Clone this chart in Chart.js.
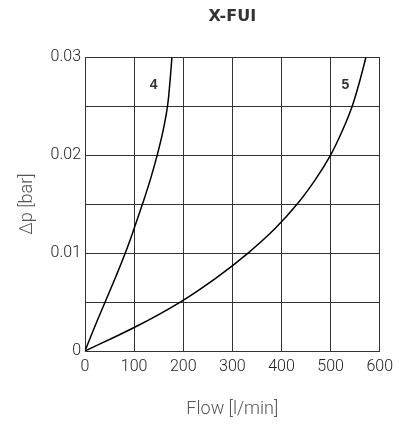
<!DOCTYPE html>
<html><head><meta charset="utf-8">
<script src="https://cdn.jsdelivr.net/npm/chart.js@4/dist/chart.umd.min.js"></script>
<style>html,body{margin:0;padding:0;background:#fff}#wrap{width:399px;height:426px}</style>
</head><body><div id="wrap"><canvas id="c" width="399" height="426"></canvas></div>
<script>
const titleText = 'X-FUI';
const xTitle = 'Flow [l/min]';
const yTitle = 'Δp [bar]';
const dpSteps    = [0, 0.0025, 0.005, 0.0075, 0.01, 0.0125, 0.015, 0.0175, 0.02, 0.0225, 0.025, 0.0275, 0.03];
const curve4Flow = [0, 20, 41, 62, 82, 100, 117, 133, 147, 159, 168, 173, 177];
const curve5Flow = [0, 104, 194, 268, 332, 387, 432, 469, 500, 524, 544, 559, 572];
const curveNames = ['4', '5'];
const nameFlow = [140, 530];
const nameDp = [0.0271, 0.0271];

const pts = (xs, ys) => xs.map((x, i) => ({x, y: ys[i]}));

const labelPlugin = {
  id: 'curveNames',
  afterDatasetsDraw(chart) {
    const {ctx, scales} = chart;
    ctx.save();
    ctx.font = 'bold 14px "Liberation Sans", Arial, sans-serif';
    ctx.fillStyle = '#333';
    ctx.textAlign = 'center';
    ctx.textBaseline = 'middle';
    curveNames.forEach((n, i) => {
      ctx.fillText(n, scales.x.getPixelForValue(nameFlow[i]), scales.y.getPixelForValue(nameDp[i]));
    });
    ctx.restore();
  }
};

new Chart(document.getElementById('c'), {
  type: 'scatter',
  data: {
    datasets: [
      {data: pts(curve4Flow, dpSteps), showLine: true, borderColor: '#000', borderWidth: 1.5, pointRadius: 0, tension: 0.4},
      {data: pts(curve5Flow, dpSteps), showLine: true, borderColor: '#000', borderWidth: 1.5, pointRadius: 0, tension: 0.4}
    ]
  },
  options: {
    responsive: false,
    animation: false,
    devicePixelRatio: 1,
    layout: {padding: {top: 0, right: 19, left: 0, bottom: 0}},
    plugins: {
      legend: {display: false},
      tooltip: {enabled: false},
      title: {display: true, text: titleText, fullSize: false, color: '#333',
        font: {family: '"DejaVu Sans", sans-serif', size: 16, weight: 'bold'},
        padding: {top: 7, bottom: 31}}
    },
    scales: {
      x: {
        type: 'linear', min: 0, max: 600,
        afterFit: s => { s.height = 75; },
        grid: {color: '#333', lineWidth: 1, drawTicks: false},
        border: {color: '#333', width: 1},
        ticks: {stepSize: 100, padding: 6, color: '#222', font: {family: 'Roboto, sans-serif', size: 16, weight: 300}, maxRotation: 0},
        title: {display: true, text: xTitle, color: '#555', font: {family: 'Roboto, sans-serif', size: 18, weight: 300}, padding: {top: 0, bottom: 6}}
      },
      y: {
        type: 'linear', min: 0, max: 0.03,
        afterFit: s => { s.width = 85; },
        grid: {color: '#333', lineWidth: 1, drawTicks: false},
        border: {color: '#333', width: 1},
        ticks: {stepSize: 0.005, padding: 4, color: '#222', font: {family: 'Roboto, sans-serif', size: 16, weight: 300},
          callback: v => {
            const h = v * 100;
            if (Math.abs(h - Math.round(h)) > 1e-6) return '';
            return Math.round(h) === 0 ? '0' : v.toFixed(2);
          }},
        title: {display: true, text: yTitle, color: '#555', font: {family: 'Roboto, sans-serif', size: 18, weight: 300}, padding: {top: 17, bottom: 17}}
      }
    }
  },
  plugins: [labelPlugin]
});
</script></body></html>
